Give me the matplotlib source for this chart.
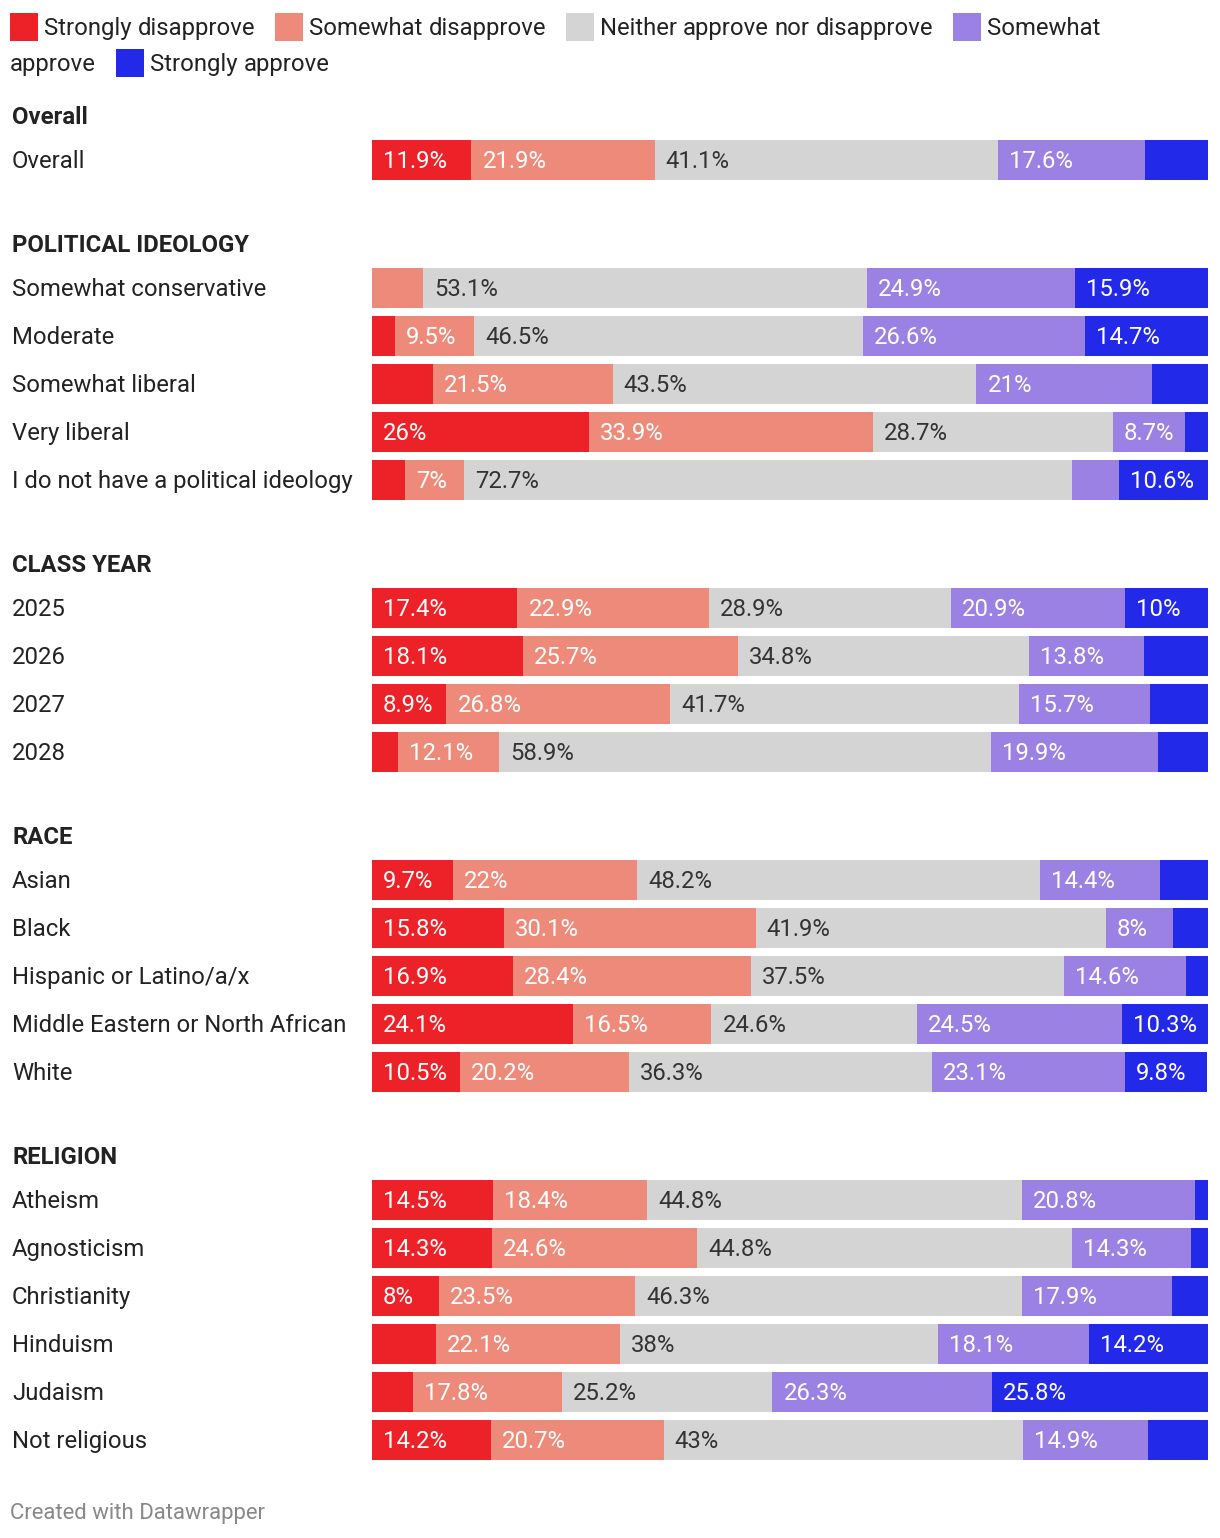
import matplotlib.pyplot as plt
from matplotlib.patches import Rectangle
from matplotlib import transforms

plt.rcParams['font.family'] = ['Roboto', 'DejaVu Sans']

legend_labels = ["Strongly disapprove", "Somewhat disapprove",
                 "Neither approve nor disapprove", "Somewhat approve", "Strongly approve"]
colors = ["#ed2128", "#ee8a7a", "#d4d4d4", "#9a81e3", "#2229e8"]
text_colors = ["white", "white", "#333333", "white", "white"]

groups = ["Overall", "POLITICAL IDEOLOGY", "CLASS YEAR", "RACE", "RELIGION"]
categories = [
    ["Overall"],
    ["Somewhat conservative", "Moderate", "Somewhat liberal", "Very liberal",
     "I do not have a political ideology"],
    ["2025", "2026", "2027", "2028"],
    ["Asian", "Black", "Hispanic or Latino/a/x", "Middle Eastern or North African", "White"],
    ["Atheism", "Agnosticism", "Christianity", "Hinduism", "Judaism", "Not religious"],
]
# strongly disapprove, somewhat disapprove, neither, somewhat approve, strongly approve
values = [
    [[11.9, 21.9, 41.1, 17.6, 7.5]],
    [[0.0, 6.1, 53.1, 24.9, 15.9],
     [2.7, 9.5, 46.5, 26.6, 14.7],
     [7.3, 21.5, 43.5, 21.0, 6.7],
     [26.0, 33.9, 28.7, 8.7, 2.7],
     [4.0, 7.0, 72.7, 5.7, 10.6]],
    [[17.4, 22.9, 28.9, 20.9, 10.0],
     [18.1, 25.7, 34.8, 13.8, 7.6],
     [8.9, 26.8, 41.7, 15.7, 6.9],
     [3.1, 12.1, 58.9, 19.9, 6.0]],
    [[9.7, 22.0, 48.2, 14.4, 5.7],
     [15.8, 30.1, 41.9, 8.0, 4.2],
     [16.9, 28.4, 37.5, 14.6, 2.6],
     [24.1, 16.5, 24.6, 24.5, 10.3],
     [10.5, 20.2, 36.3, 23.1, 9.8]],
    [[14.5, 18.4, 44.8, 20.8, 1.5],
     [14.3, 24.6, 44.8, 14.3, 2.0],
     [8.0, 23.5, 46.3, 17.9, 4.3],
     [7.6, 22.1, 38.0, 18.1, 14.2],
     [4.9, 17.8, 25.2, 26.3, 25.8],
     [14.2, 20.7, 43.0, 14.9, 7.2]],
]

W, H = 1220, 1538
fig = plt.figure(figsize=(W / 100, H / 100), dpi=100)

# overlay axes in pixel units for text / legend
lax = fig.add_axes([0, 0, 1, 1])
lax.set_xlim(0, W)
lax.set_ylim(H, 0)
lax.axis('off')

# bar axes: x in percent, y in pixel rows
ax = fig.add_axes([372 / W, 0, 836 / W, 1])
ax.set_xlim(0, 100)
ax.set_ylim(H, 0)
ax.axis('off')

renderer = fig.canvas.get_renderer()
fs = 17.2
dark = "#222222"
px_per_pct = 836 / 100
va = 'center_baseline'
dy = -1  # small nudge so text sits centred like the original

# legend, simple word-wrap flow
limit = 1180
x, y = 10, 27
for lab, col in zip(legend_labels, colors):
    words = lab.split(" ")
    for i, w in enumerate(words):
        t = lax.text(0, y + dy, w, fontsize=fs, color=dark, va=va, ha='left')
        tw = t.get_window_extent(renderer).width
        need = tw + (34 if i == 0 else 0)
        if x + need > limit:
            x, y = 10, y + 36
        if i == 0:
            lax.add_patch(Rectangle((x, y - 14), 28, 28, color=col, lw=0))
            x += 34
        t.set_position((x, y + dy))
        x += tw + (6 if i < len(words) - 1 else 20)

# rows
lab_trans = transforms.blended_transform_factory(lax.transData, ax.transData)
yh = 116
for g, cats, vals in zip(groups, categories, values):
    ax.text(12, yh + dy, g, transform=lab_trans, fontsize=fs, fontweight='bold',
            color=dark, va=va, ha='left')
    yr = yh + 44
    for cat, row in zip(cats, vals):
        ax.text(12, yr + dy, cat, transform=lab_trans, fontsize=fs, color=dark,
                va=va, ha='left')
        left = 0
        for v, col, tc in zip(row, colors, text_colors):
            ax.barh(yr, v, left=left, height=40, color=col, lw=0)
            if v > 0:
                t = ax.text(left, yr + dy, f"{v:g}%", fontsize=fs, color=tc,
                            va=va, ha='left')
                t.set_transform(ax.transData + transforms.ScaledTranslation(11 / 100, 0, fig.dpi_scale_trans))
                tw = t.get_window_extent(renderer).width
                if tw + 21 > v * px_per_pct:
                    t.remove()
            left += v
        yr += 48
    yh = yr - 48 + 84

lax.text(10, 1512 + dy, "Created with Datawrapper", fontsize=15.9, color="#888888",
         va=va, ha='left')

fig.savefig("out.png", dpi=100)
